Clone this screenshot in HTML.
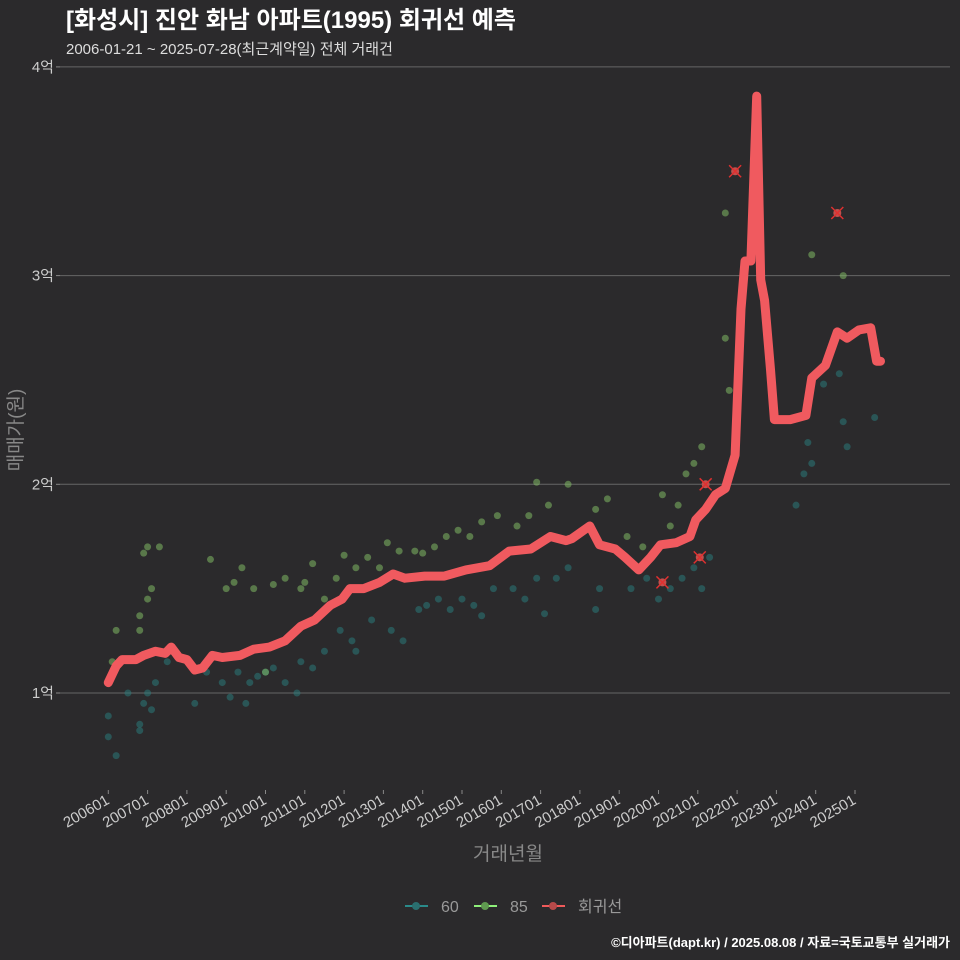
<!DOCTYPE html>
<html><head><meta charset="utf-8">
<style>
html,body{margin:0;background:#2b2a2c;overflow:hidden;}
svg{display:block;}
svg text{font-family:"Liberation Sans","Noto Sans CJK KR",sans-serif;}
</style></head>
<body>
<svg id="c" width="960" height="960" xmlns="http://www.w3.org/2000/svg">
<rect width="960" height="960" fill="#2b2a2c"/>
<text x="66" y="28" fill="#fff" font-size="24" font-weight="bold">[화성시] 진안 화남 아파트(1995) 회귀선 예측</text>
<text x="66" y="54" fill="#ddd" font-size="15">2006-01-21 ~ 2025-07-28(최근계약일) 전체 거래건</text>
<g id="grid"></g><g id="pts"></g><g id="line"></g><g id="axes"></g>
<text x="508" y="860" fill="#888" font-size="19" text-anchor="middle">거래년월</text>
<text transform="translate(22,430) rotate(-90)" fill="#888" font-size="19" text-anchor="middle">매매가(원)</text>
<g font-size="16" fill="#999">
<g><line x1="405" y1="906" x2="428" y2="906" stroke="#2a8a8a" stroke-width="2"/><circle cx="416" cy="906" r="4" fill="#2a6f6f"/><text x="441" y="912">60</text></g>
<g><line x1="474" y1="906" x2="497" y2="906" stroke="#8ef07a" stroke-width="2"/><circle cx="485" cy="906" r="4" fill="#5f9a50"/><text x="510" y="912">85</text></g>
<g><line x1="542" y1="906" x2="565" y2="906" stroke="#f05a5a" stroke-width="2"/><circle cx="553" cy="906" r="4" fill="#b84a4a"/><text x="578" y="912">회귀선</text></g>
</g>
<text x="950" y="947" fill="#fff" font-size="13" font-weight="bold" text-anchor="end">©디아파트(dapt.kr) / 2025.08.08 / 자료=국토교통부 실거래가</text>
</svg>
<script>
const yTicks=[1,2,3,4];
const yTickLabels=["1억","2억","3억","4억"];
const xTickYears=[2006,2007,2008,2009,2010,2011,2012,2013,2014,2015,2016,2017,2018,2019,2020,2021,2022,2023,2024,2025];
const xTickLabels=["200601","200701","200801","200901","201001","201101","201201","201301","201401","201501","201601","201701","201801","201901","202001","202101","202201","202301","202401","202501"];
const lineYears=[2006.0,2006.2,2006.35,2006.7,2006.9,2007.2,2007.45,2007.6,2007.8,2008.0,2008.2,2008.4,2008.65,2008.9,2009.35,2009.7,2010.1,2010.5,2010.9,2011.25,2011.65,2011.95,2012.15,2012.5,2012.9,2013.25,2013.55,2014.05,2014.55,2015.1,2015.7,2016.2,2016.75,2017.25,2017.65,2017.8,2018.25,2018.5,2018.9,2019.15,2019.5,2019.8,2020.05,2020.45,2020.8,2020.95,2021.2,2021.45,2021.7,2021.95,2022.1,2022.2,2022.35,2022.5,2022.6,2022.7,2022.85,2022.95,2023.35,2023.75,2023.9,2024.25,2024.55,2024.8,2025.1,2025.4,2025.55,2025.65];
const lineValues=[1.05,1.13,1.16,1.16,1.18,1.2,1.19,1.22,1.17,1.16,1.11,1.12,1.18,1.17,1.18,1.21,1.22,1.25,1.32,1.35,1.42,1.45,1.5,1.5,1.53,1.57,1.55,1.56,1.56,1.59,1.61,1.68,1.69,1.75,1.73,1.74,1.8,1.71,1.69,1.65,1.59,1.65,1.71,1.72,1.75,1.83,1.88,1.95,1.98,2.14,2.84,3.07,3.07,3.86,2.98,2.88,2.55,2.31,2.31,2.33,2.51,2.57,2.73,2.7,2.74,2.75,2.59,2.59];
const s60Years=[2006.0,2006.0,2006.2,2006.5,2006.8,2006.8,2006.9,2007.0,2007.1,2007.2,2007.5,2008.2,2008.5,2008.9,2009.1,2009.3,2009.5,2009.6,2009.8,2010.0,2010.2,2010.5,2010.8,2010.9,2011.2,2011.5,2011.9,2012.2,2012.3,2012.7,2013.2,2013.5,2013.9,2014.1,2014.4,2014.7,2015.0,2015.3,2015.5,2015.8,2016.3,2016.6,2016.9,2017.1,2017.4,2017.7,2018.4,2018.5,2019.3,2019.7,2020.0,2020.3,2020.6,2020.9,2021.1,2021.3,2023.5,2023.7,2023.8,2023.9,2024.2,2024.6,2024.7,2024.8,2025.5];
const s60Values=[0.79,0.89,0.7,1.0,0.85,0.82,0.95,1.0,0.92,1.05,1.15,0.95,1.1,1.05,0.98,1.1,0.95,1.05,1.08,1.1,1.12,1.05,1.0,1.15,1.12,1.2,1.3,1.25,1.2,1.35,1.3,1.25,1.4,1.42,1.45,1.4,1.45,1.42,1.37,1.5,1.5,1.45,1.55,1.38,1.55,1.6,1.4,1.5,1.5,1.55,1.45,1.5,1.55,1.6,1.5,1.65,1.9,2.05,2.2,2.1,2.48,2.53,2.3,2.18,2.32];
const s85Years=[2006.1,2006.2,2006.8,2006.8,2006.9,2007.0,2007.0,2007.1,2007.3,2008.6,2009.0,2009.2,2009.4,2009.7,2010.0,2010.2,2010.5,2010.9,2011.0,2011.2,2011.5,2011.8,2012.0,2012.3,2012.6,2012.9,2013.1,2013.4,2013.8,2014.0,2014.3,2014.6,2014.9,2015.2,2015.5,2015.9,2016.4,2016.7,2016.9,2017.2,2017.7,2018.4,2018.7,2019.2,2019.6,2020.1,2020.3,2020.5,2020.7,2020.9,2021.1,2021.7,2021.7,2021.8,2023.9,2024.7];
const s85Values=[1.15,1.3,1.3,1.37,1.67,1.7,1.45,1.5,1.7,1.64,1.5,1.53,1.6,1.5,1.1,1.52,1.55,1.5,1.53,1.62,1.45,1.55,1.66,1.6,1.65,1.6,1.72,1.68,1.68,1.67,1.7,1.75,1.78,1.75,1.82,1.85,1.8,1.85,2.01,1.9,2.0,1.88,1.93,1.75,1.7,1.95,1.8,1.9,2.05,2.1,2.18,3.3,2.7,2.45,3.1,3.0];
const outYears=[2021.95,2024.55,2021.2,2021.05,2020.1];
const outValues=[3.5,3.3,2.0,1.65,1.53];

const NS="http://www.w3.org/2000/svg";
const X=y=>108.3+(y-2006)*39.3;
const Y=v=>693-(v-1)*208.7;
function mk(t,a,p){const e=document.createElementNS(NS,t);for(const k in a)e.setAttribute(k,a[k]);document.getElementById(p).appendChild(e);return e;}
yTicks.forEach((v,i)=>{
  const g=mk('line',{x1:60,x2:950,y1:Y(v),y2:Y(v),stroke:'#666','stroke-width':1},'grid');
  
  
  const tk=mk('line',{x1:56,x2:60,y1:Y(v),y2:Y(v),stroke:'#888'},'axes');
  
  
  const t=mk('text',{x:54,y:Y(v)+5,fill:'#ccc','font-size':15,'text-anchor':'end'},'axes');
  t.textContent=yTickLabels[i];
  
  
});
xTickYears.forEach((yr,i)=>{
  const x=X(yr);
  const tk=mk('line',{x1:x,x2:x,y1:790,y2:794,stroke:'#888'},'axes');
  
  
  const t=mk('text',{x:x+2,y:803,fill:'#ccc','font-size':15,'text-anchor':'end',transform:`rotate(-30 ${x+2} 803)`},'axes');
  t.textContent=xTickLabels[i];
  
  
});
s60Years.forEach((yr,i)=>{
  const c=mk('circle',{cx:X(yr),cy:Y(s60Values[i]),r:3.5,fill:'#2a8080','fill-opacity':0.5},'pts');
  
  
});
s85Years.forEach((yr,i)=>{
  const c=mk('circle',{cx:X(yr),cy:Y(s85Values[i]),r:3.5,fill:'#7fb865','fill-opacity':0.55},'pts');
  
  
});
const d=lineYears.map((yr,i)=>(i?'L':'M')+X(yr).toFixed(1)+' '+Y(lineValues[i]).toFixed(1)).join(' ');
const p=mk('path',{d:d,fill:'none',stroke:'#f05a5f','stroke-width':9,'stroke-linejoin':'round','stroke-linecap':'round'},'line');


outYears.forEach((yr,i)=>{
  const x=X(yr),y=Y(outValues[i]);
  const c=mk('circle',{cx:x,cy:y,r:4,fill:'#c0504d'},'line');
  
  
  const m=mk('path',{d:`M${x-6} ${y-6}L${x+6} ${y+6}M${x-6} ${y+6}L${x+6} ${y-6}`,stroke:'#e03030','stroke-width':1.5},'line');
  
  
});
</script>
</body></html>
